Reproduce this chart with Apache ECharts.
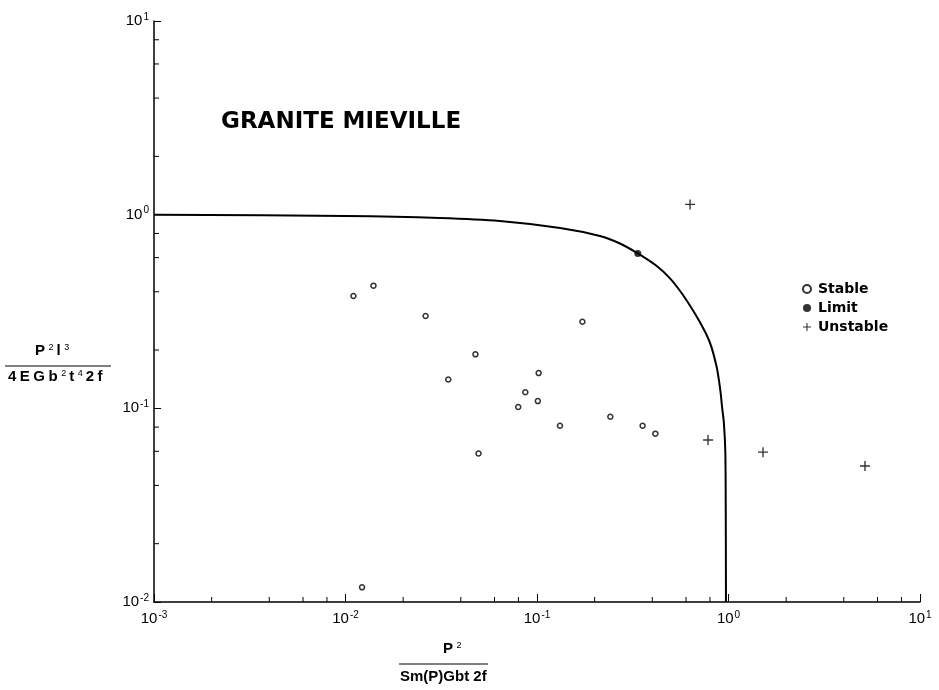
<!DOCTYPE html>
<html>
<head>
<meta charset="utf-8">
<script src="https://cdn.jsdelivr.net/npm/echarts@6/dist/echarts.min.js"></script>
<style>
html,body{margin:0;padding:0;background:#fff;}
#chart{width:939px;height:690px;}
</style>
</head>
<body>
<div id="chart"></div>
<script>
// ---- data ----
const stableX = [0.0110, 0.0140, 0.0262, 0.0477, 0.0344, 0.1726, 0.102, 0.0869, 0.101, 0.0798, 0.1318, 0.2415, 0.356, 0.415, 0.0495, 0.0122];
const stableY = [0.380, 0.430, 0.300, 0.190, 0.141, 0.280, 0.152, 0.121, 0.109, 0.1016, 0.0813, 0.0905, 0.0813, 0.0740, 0.0584, 0.0119];
const limitX = [0.336];
const limitY = [0.631];
const unstableX = [0.630, 0.782, 1.514, 5.16];
const unstableY = [1.13, 0.0686, 0.0594, 0.0504];
const curveX = [0.001, 0.01, 0.031, 0.064, 0.132, 0.213, 0.271, 0.336, 0.422, 0.495, 0.570, 0.642, 0.700, 0.769, 0.815, 0.867, 0.891, 0.910, 0.925, 0.945, 0.962, 0.967, 0.970];
const curveY = [1.0, 0.983, 0.96, 0.927, 0.853, 0.776, 0.710, 0.631, 0.543, 0.469, 0.393, 0.329, 0.285, 0.239, 0.207, 0.164, 0.140, 0.120, 0.102, 0.085, 0.061, 0.034, 0.01];
const xMinorTicks = [0.002,0.004,0.006,0.008,0.02,0.04,0.06,0.08,0.2,0.4,0.6,0.8,2,4,6,8];
const yMinorTicks = [0.02,0.04,0.06,0.08,0.2,0.4,0.6,0.8,2,4,6,8];
const legendNames = ['Stable', 'Limit', 'Unstable'];
const titleText = 'GRANITE MIEVILLE';

const FONT = '"Liberation Sans", Arial, sans-serif';
const FONT2 = '"DejaVu Sans", sans-serif';
const zip = (a, b) => a.map((v, i) => [v, b[i]]);
const crossPath = 'path://M4.75,0h1.5v4.75h4.75v1.5h-4.75v4.75h-1.5v-4.75h-4.75v-1.5h4.75z';

function expLabel(v) {
  const e = Math.round(Math.log10(v));
  return '{b|10}{e|' + (e < 0 ? '-' + (-e) : e) + '}';
}
const labelRich = {
  b: {fontSize: 15, fontFamily: FONT, color: '#000', lineHeight: 18},
  e: {fontSize: 10, fontFamily: FONT, color: '#000', verticalAlign: 'top', lineHeight: 18, padding: [0, 0, 0, 1]}
};
const fracRich = {
  a: {fontFamily: FONT, fontSize: 15, fontWeight: 'bold', color: '#000', padding: [0, 3.5, 0, 0]},
  s: {fontFamily: FONT, fontSize: 9, color: '#000', verticalAlign: 'top', padding: [0, 3, 0, 0]}
};

const chart = echarts.init(document.getElementById('chart'), null, {renderer: 'canvas'});
chart.setOption({
  backgroundColor: '#fff',
  animation: false,
  grid: {left: 154, right: 19, top: 21, bottom: 88},
  title: {
    text: titleText, left: 216, top: 106,
    textStyle: {fontFamily: FONT2, fontSize: 23, fontWeight: 'bold', color: '#000'}
  },
  legend: {
    data: legendNames, orient: 'vertical', left: 797, top: 277,
    itemWidth: 12, itemHeight: 8, itemGap: 5,
    textStyle: {fontFamily: FONT2, fontSize: 14, color: '#000', fontWeight: 'bold'}
  },
  xAxis: {
    type: 'log', logBase: 10, min: 0.001, max: 10, interval: 1,
    axisLine: {lineStyle: {color: '#000', width: 1.5}},
    axisTick: {inside: true, length: 8, lineStyle: {color: '#000', width: 1}},
    minorTick: {show: false},
    splitLine: {show: false},
    axisLabel: {margin: 8, formatter: expLabel, rich: labelRich}
  },
  yAxis: {
    type: 'log', logBase: 10, min: 0.01, max: 10, interval: 1,
    axisLine: {lineStyle: {color: '#000', width: 1.5}},
    axisTick: {inside: true, length: 7, lineStyle: {color: '#000', width: 1}},
    minorTick: {show: false},
    splitLine: {show: false},
    axisLabel: {margin: 5, formatter: expLabel, rich: labelRich}
  },
  graphic: [
    {type: 'text', left: 35, top: 343, style: {rich: fracRich, text: '{a|P}{s|2}{a|l}{s|3}'}},
    {type: 'line', shape: {x1: 5, y1: 366, x2: 111, y2: 366}, style: {stroke: '#000', lineWidth: 1}},
    {type: 'text', left: 8, top: 369, style: {rich: fracRich,
      text: '{a|4}{a|E}{a|G}{a|b}{s|2}{a|t}{s|4}{a|2}{a|f}'}},
    {type: 'text', left: 443, top: 641, style: {rich: fracRich, text: '{a|P}{s|2}'}},
    {type: 'line', shape: {x1: 399, y1: 664, x2: 488, y2: 664}, style: {stroke: '#000', lineWidth: 1}},
    {type: 'text', left: 400, top: 669, style: {text: 'Sm(P)Gbt 2f', fontFamily: FONT, fontSize: 15, fontWeight: 'bold', fill: '#000'}}
  ],
  series: [
    {
      name: 'curve', type: 'line', data: zip(curveX, curveY), smooth: 0.3,
      showSymbol: false, silent: true,
      lineStyle: {color: '#000', width: 2}, z: 2
    },
    {
      name: 'Stable', type: 'scatter', data: zip(stableX, stableY),
      symbol: 'circle', symbolSize: 5,
      itemStyle: {color: '#fff', borderColor: '#000', borderWidth: 1.5}, z: 3
    },
    {
      name: 'Limit', type: 'scatter', data: zip(limitX, limitY),
      symbol: 'circle', symbolSize: 7,
      itemStyle: {color: '#000'}, z: 4
    },
    {
      name: 'Unstable', type: 'scatter', data: zip(unstableX, unstableY),
      symbol: crossPath, symbolSize: 10,
      itemStyle: {color: '#000'}, z: 3
    },
    {
      name: 'xminor', type: 'custom', silent: true, data: xMinorTicks.map(v => [v, 0.01]),
      renderItem: function (params, api) {
        const p = api.coord([api.value(0), api.value(1)]);
        return {type: 'line', shape: {x1: p[0], y1: p[1], x2: p[0], y2: p[1] - 5}, style: {stroke: '#000', lineWidth: 1}};
      }
    },
    {
      name: 'yminor', type: 'custom', silent: true, data: yMinorTicks.map(v => [0.001, v]),
      renderItem: function (params, api) {
        const p = api.coord([api.value(0), api.value(1)]);
        return {type: 'line', shape: {x1: p[0], y1: p[1], x2: p[0] + 5, y2: p[1]}, style: {stroke: '#000', lineWidth: 1}};
      }
    }
  ]
});
</script>
</body>
</html>
